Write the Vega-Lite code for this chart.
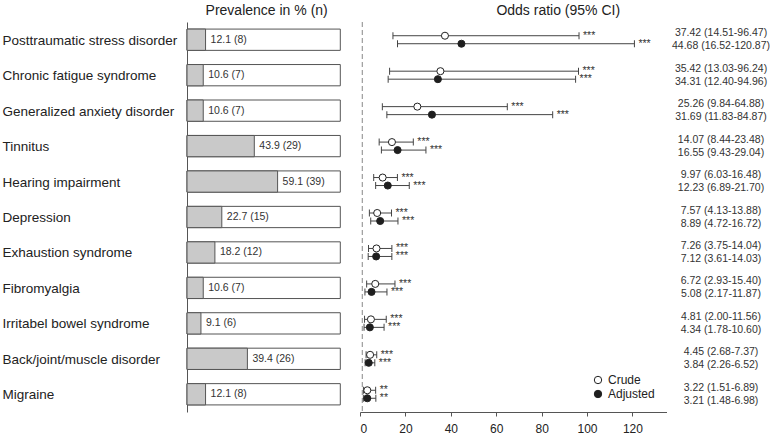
{
  "$schema": "https://vega.github.io/schema/vega-lite/v6.json",
  "padding": {"left": 2, "top": 3, "right": 0, "bottom": 0},
  "bounds": "flush",
  "spacing": 19,
  "resolve": {"scale": {"fill": "independent"}, "legend": {"fill": "independent"}},
  "config": {
    "view": {"stroke": null},
    "font": "Liberation Sans",
    "title": {"fontSize": 14, "fontWeight": "normal", "color": "#222", "frame": "group", "anchor": "middle", "offset": 4}
  },
  "datasets": {
    "prev": [
      {"d": "Posttraumatic stress disorder", "p": 12.1, "label": "12.1 (8)"},
      {"d": "Chronic fatigue syndrome", "p": 10.6, "label": "10.6 (7)"},
      {"d": "Generalized anxiety disorder", "p": 10.6, "label": "10.6 (7)"},
      {"d": "Tinnitus", "p": 43.9, "label": "43.9 (29)"},
      {"d": "Hearing impairment", "p": 59.1, "label": "59.1 (39)"},
      {"d": "Depression", "p": 22.7, "label": "22.7 (15)"},
      {"d": "Exhaustion syndrome", "p": 18.2, "label": "18.2 (12)"},
      {"d": "Fibromyalgia", "p": 10.6, "label": "10.6 (7)"},
      {"d": "Irritabel bowel syndrome", "p": 9.1, "label": "9.1 (6)"},
      {"d": "Back/joint/muscle disorder", "p": 39.4, "label": "39.4 (26)"},
      {"d": "Migraine", "p": 12.1, "label": "12.1 (8)"}
    ],
    "or": [
      {"d": "Posttraumatic stress disorder", "type": "Crude", "or": 37.42, "lo": 14.51, "hi": 96.47, "sig": "***", "label": "37.42 (14.51-96.47)"},
      {"d": "Posttraumatic stress disorder", "type": "Adjusted", "or": 44.68, "lo": 16.52, "hi": 120.87, "sig": "***", "label": "44.68 (16.52-120.87)"},
      {"d": "Chronic fatigue syndrome", "type": "Crude", "or": 35.42, "lo": 13.03, "hi": 96.24, "sig": "***", "label": "35.42 (13.03-96.24)"},
      {"d": "Chronic fatigue syndrome", "type": "Adjusted", "or": 34.31, "lo": 12.40, "hi": 94.96, "sig": "***", "label": "34.31 (12.40-94.96)"},
      {"d": "Generalized anxiety disorder", "type": "Crude", "or": 25.26, "lo": 9.84, "hi": 64.88, "sig": "***", "label": "25.26 (9.84-64.88)"},
      {"d": "Generalized anxiety disorder", "type": "Adjusted", "or": 31.69, "lo": 11.83, "hi": 84.87, "sig": "***", "label": "31.69 (11.83-84.87)"},
      {"d": "Tinnitus", "type": "Crude", "or": 14.07, "lo": 8.44, "hi": 23.48, "sig": "***", "label": "14.07 (8.44-23.48)"},
      {"d": "Tinnitus", "type": "Adjusted", "or": 16.55, "lo": 9.43, "hi": 29.04, "sig": "***", "label": "16.55 (9.43-29.04)"},
      {"d": "Hearing impairment", "type": "Crude", "or": 9.97, "lo": 6.03, "hi": 16.48, "sig": "***", "label": "9.97 (6.03-16.48)"},
      {"d": "Hearing impairment", "type": "Adjusted", "or": 12.23, "lo": 6.89, "hi": 21.70, "sig": "***", "label": "12.23 (6.89-21.70)"},
      {"d": "Depression", "type": "Crude", "or": 7.57, "lo": 4.13, "hi": 13.88, "sig": "***", "label": "7.57 (4.13-13.88)"},
      {"d": "Depression", "type": "Adjusted", "or": 8.89, "lo": 4.72, "hi": 16.72, "sig": "***", "label": "8.89 (4.72-16.72)"},
      {"d": "Exhaustion syndrome", "type": "Crude", "or": 7.26, "lo": 3.75, "hi": 14.04, "sig": "***", "label": "7.26 (3.75-14.04)"},
      {"d": "Exhaustion syndrome", "type": "Adjusted", "or": 7.12, "lo": 3.61, "hi": 14.03, "sig": "***", "label": "7.12 (3.61-14.03)"},
      {"d": "Fibromyalgia", "type": "Crude", "or": 6.72, "lo": 2.93, "hi": 15.40, "sig": "***", "label": "6.72 (2.93-15.40)"},
      {"d": "Fibromyalgia", "type": "Adjusted", "or": 5.08, "lo": 2.17, "hi": 11.87, "sig": "***", "label": "5.08 (2.17-11.87)"},
      {"d": "Irritabel bowel syndrome", "type": "Crude", "or": 4.81, "lo": 2.00, "hi": 11.56, "sig": "***", "label": "4.81 (2.00-11.56)"},
      {"d": "Irritabel bowel syndrome", "type": "Adjusted", "or": 4.34, "lo": 1.78, "hi": 10.60, "sig": "***", "label": "4.34 (1.78-10.60)"},
      {"d": "Back/joint/muscle disorder", "type": "Crude", "or": 4.45, "lo": 2.68, "hi": 7.37, "sig": "***", "label": "4.45 (2.68-7.37)"},
      {"d": "Back/joint/muscle disorder", "type": "Adjusted", "or": 3.84, "lo": 2.26, "hi": 6.52, "sig": "***", "label": "3.84 (2.26-6.52)"},
      {"d": "Migraine", "type": "Crude", "or": 3.22, "lo": 1.51, "hi": 6.89, "sig": "**", "label": "3.22 (1.51-6.89)"},
      {"d": "Migraine", "type": "Adjusted", "or": 3.21, "lo": 1.48, "hi": 6.98, "sig": "**", "label": "3.21 (1.48-6.98)"}
    ]
  },
  "hconcat": [
    {
      "width": 153.3,
      "height": 390,
      "title": {"text": "Prevalence in % (n)", "dx": 3},
      "data": {"name": "prev"},
      "encoding": {
        "y": {
          "field": "d", "type": "nominal",
          "sort": ["Posttraumatic stress disorder", "Chronic fatigue syndrome", "Generalized anxiety disorder", "Tinnitus", "Hearing impairment", "Depression", "Exhaustion syndrome", "Fibromyalgia", "Irritabel bowel syndrome", "Back/joint/muscle disorder", "Migraine"],
          "scale": {"paddingInner": 0, "paddingOuter": 0},
          "axis": {"title": null, "ticks": false, "tickSize": 0, "labelAlign": "left", "labelPadding": 185, "labelFontSize": 13.5, "labelColor": "#222", "labelLimit": 300, "domainColor": "#555", "labelBaseline": "middle", "labelOffset": 1}
        }
      },
      "layer": [
        {
          "mark": {"type": "bar", "fill": "white", "stroke": "#555", "strokeWidth": 1, "height": {"band": 0.6}},
          "encoding": {"x": {"datum": 100, "type": "quantitative", "scale": {"domain": [0, 100], "nice": false}, "axis": null}}
        },
        {
          "mark": {"type": "bar", "fill": "#c9c9c9", "stroke": "#555", "strokeWidth": 1, "height": {"band": 0.6}},
          "encoding": {"x": {"field": "p", "type": "quantitative"}}
        },
        {
          "mark": {"type": "text", "align": "left", "baseline": "middle", "dx": 5, "fontSize": 10.5, "letterSpacing": 0.2, "color": "#333"},
          "encoding": {"x": {"field": "p", "type": "quantitative"}, "text": {"field": "label"}}
        }
      ]
    },
    {
      "width": 306.5,
      "height": 390,
      "title": {"text": "Odds ratio (95% CI)", "dx": 45},
      "layer": [
        {
          "data": {"values": [{}]},
          "mark": {"type": "rule", "strokeDash": [5, 3], "color": "#888", "strokeWidth": 1},
          "encoding": {
            "x": {"datum": 1, "type": "quantitative", "scale": {"domain": [0, 135], "nice": false, "zero": false},
              "axis": {"title": null, "values": [0, 20, 40, 60, 80, 100, 120], "grid": false, "tickSize": 4, "labelPadding": 7, "domainColor": "#555", "tickColor": "#555", "labelFontSize": 12, "labelColor": "#222"}}
          }
        },
        {
          "data": {"name": "or"},
          "mark": {"type": "rule", "color": "#444", "strokeWidth": 1, "yOffset": {"expr": "datum.type === 'Crude' ? -4 : 4"}},
          "encoding": {
            "y": {"field": "d", "type": "nominal", "sort": ["Posttraumatic stress disorder", "Chronic fatigue syndrome", "Generalized anxiety disorder", "Tinnitus", "Hearing impairment", "Depression", "Exhaustion syndrome", "Fibromyalgia", "Irritabel bowel syndrome", "Back/joint/muscle disorder", "Migraine"], "scale": {"paddingInner": 0, "paddingOuter": 0}, "axis": null},
            "x": {"field": "lo", "type": "quantitative"},
            "x2": {"field": "hi"}
          }
        },
        {
          "data": {"name": "or"},
          "mark": {"type": "tick", "orient": "vertical", "size": 7, "thickness": 1, "color": "#444", "opacity": 1, "yOffset": {"expr": "datum.type === 'Crude' ? -4 : 4"}},
          "encoding": {
            "y": {"field": "d", "type": "nominal", "sort": ["Posttraumatic stress disorder", "Chronic fatigue syndrome", "Generalized anxiety disorder", "Tinnitus", "Hearing impairment", "Depression", "Exhaustion syndrome", "Fibromyalgia", "Irritabel bowel syndrome", "Back/joint/muscle disorder", "Migraine"], "axis": null},
            "x": {"field": "lo", "type": "quantitative"}
          }
        },
        {
          "data": {"name": "or"},
          "mark": {"type": "tick", "orient": "vertical", "size": 7, "thickness": 1, "color": "#444", "opacity": 1, "yOffset": {"expr": "datum.type === 'Crude' ? -4 : 4"}},
          "encoding": {
            "y": {"field": "d", "type": "nominal", "sort": ["Posttraumatic stress disorder", "Chronic fatigue syndrome", "Generalized anxiety disorder", "Tinnitus", "Hearing impairment", "Depression", "Exhaustion syndrome", "Fibromyalgia", "Irritabel bowel syndrome", "Back/joint/muscle disorder", "Migraine"], "axis": null},
            "x": {"field": "hi", "type": "quantitative"}
          }
        },
        {
          "data": {"name": "or"},
          "mark": {"type": "circle", "size": 50, "stroke": "#222", "strokeWidth": 1, "opacity": 1, "yOffset": {"expr": "datum.type === 'Crude' ? -4 : 4"}},
          "encoding": {
            "y": {"field": "d", "type": "nominal", "sort": ["Posttraumatic stress disorder", "Chronic fatigue syndrome", "Generalized anxiety disorder", "Tinnitus", "Hearing impairment", "Depression", "Exhaustion syndrome", "Fibromyalgia", "Irritabel bowel syndrome", "Back/joint/muscle disorder", "Migraine"], "axis": null},
            "x": {"field": "or", "type": "quantitative"},
            "fill": {"field": "type", "type": "nominal", "scale": {"domain": ["Crude", "Adjusted"], "range": ["white", "#1e1e1e"]},
              "legend": {"title": null, "orient": "bottom-right", "offset": 12, "labelFontSize": 12, "labelColor": "#222", "symbolType": "circle", "symbolSize": 55, "symbolStrokeColor": "#222", "symbolStrokeWidth": 1, "rowPadding": 2, "labelOffset": 4}}
          }
        },
        {
          "data": {"name": "or"},
          "mark": {"type": "text", "align": "left", "baseline": "middle", "dx": 4, "fontSize": 10.5, "color": "#333", "yOffset": {"expr": "datum.type === 'Crude' ? -4 : 4"}},
          "encoding": {
            "y": {"field": "d", "type": "nominal", "sort": ["Posttraumatic stress disorder", "Chronic fatigue syndrome", "Generalized anxiety disorder", "Tinnitus", "Hearing impairment", "Depression", "Exhaustion syndrome", "Fibromyalgia", "Irritabel bowel syndrome", "Back/joint/muscle disorder", "Migraine"], "axis": null},
            "x": {"field": "hi", "type": "quantitative"},
            "text": {"field": "sig"}
          }
        }
      ]
    },
    {
      "width": 70,
      "height": 390,
      "data": {"name": "or"},
      "mark": {"type": "text", "align": "center", "baseline": "middle", "fontSize": 10.5, "letterSpacing": 0.2, "color": "#333", "yOffset": {"expr": "datum.type === 'Crude' ? -6.5 : 6.5"}},
      "encoding": {
        "y": {"field": "d", "type": "nominal", "sort": ["Posttraumatic stress disorder", "Chronic fatigue syndrome", "Generalized anxiety disorder", "Tinnitus", "Hearing impairment", "Depression", "Exhaustion syndrome", "Fibromyalgia", "Irritabel bowel syndrome", "Back/joint/muscle disorder", "Migraine"], "scale": {"paddingInner": 0, "paddingOuter": 0}, "axis": null},
        "text": {"field": "label"}
      }
    }
  ]
}
